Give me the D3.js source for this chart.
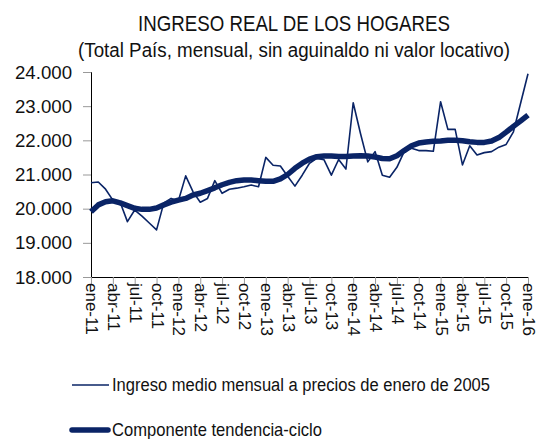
<!DOCTYPE html>
<html lang="es">
<head>
<meta charset="utf-8">
<title>Ingreso real de los hogares</title>
<script src="https://d3js.org/d3.v7.min.js"></script>
<style>
  body { margin: 0; background: #fff; }
  svg text { font-family: "Liberation Sans Narrow", "Arial Narrow", "Liberation Sans", sans-serif; fill: #111; }
</style>
</head>
<body>
<div id="chart"></div>
<script>
var width = 537,
    height = 439;

// meses ene-11 ... ene-16
var categories = [
  "ene-11","feb-11","mar-11","abr-11","may-11","jun-11","jul-11","ago-11","sep-11","oct-11","nov-11","dic-11",
  "ene-12","feb-12","mar-12","abr-12","may-12","jun-12","jul-12","ago-12","sep-12","oct-12","nov-12","dic-12",
  "ene-13","feb-13","mar-13","abr-13","may-13","jun-13","jul-13","ago-13","sep-13","oct-13","nov-13","dic-13",
  "ene-14","feb-14","mar-14","abr-14","may-14","jun-14","jul-14","ago-14","sep-14","oct-14","nov-14","dic-14",
  "ene-15","feb-15","mar-15","abr-15","may-15","jun-15","jul-15","ago-15","sep-15","oct-15","nov-15","dic-15",
  "ene-16"
];

var ingreso = [
  20760, 20780, 20570, 20250, 20190, 19620, 19960, 19780, 19580, 19380, 20170, 20300,
  20230, 20960, 20500, 20190, 20300, 20820, 20450, 20570, 20600, 20640, 20690, 20640,
  21500, 21270, 21250, 20950, 20660, 20980, 21330, 21470, 21430, 20980, 21440, 21160,
  23100, 22200, 21370, 21670, 20980, 20920, 21210, 21670, 21770, 21700, 21700, 21680,
  23130, 22320, 22320, 21280, 21840, 21570, 21640, 21670, 21800, 21880, 22250, 23100,
  23950
];

var tendencia = [
  19910, 20110, 20200, 20230, 20170, 20090, 20010, 19980, 19980, 20020, 20110, 20190,
  20250, 20300, 20400, 20450, 20530, 20610, 20700, 20770, 20820, 20840, 20840, 20820,
  20800, 20800, 20870, 21000, 21180, 21330, 21450, 21520, 21540, 21540, 21530, 21530,
  21540, 21550, 21540, 21510, 21470, 21460, 21550, 21700, 21840, 21920, 21950, 21970,
  21980, 22000, 22000, 21990, 21960, 21940, 21940, 21980, 22080, 22240, 22410, 22570,
  22740
];

var xTickLabels = categories.filter(function(d, i) { return i % 3 === 0; });
var yTicks = [18000, 19000, 20000, 21000, 22000, 23000, 24000];

var seriesNames = ["Ingreso medio mensual a precios de enero de 2005", "Componente tendencia-ciclo"];
var navy = "#0a2466";

var es = d3.formatLocale({ decimal: ",", thousands: ".", grouping: [3], currency: ["$", ""] });
var fmt = es.format(",d");

var svg = d3.select("#chart")
    .append("svg")
    .attr("width", width)
    .attr("height", height);

var x = d3.scalePoint()
    .domain(categories)
    .range([91, 528]);

var y = d3.scaleLinear()
    .domain([18000, 24000])
    .range([277, 72]);

// titulos (fuente angosta simulada con textLength)
svg.append("text")
    .attr("x", 294).attr("y", 31)
    .attr("text-anchor", "middle")
    .attr("textLength", 312)
    .attr("lengthAdjust", "spacingAndGlyphs")
    .style("font-size", "22px")
    .text("INGRESO REAL DE LOS HOGARES");
svg.append("text")
    .attr("x", 294).attr("y", 57)
    .attr("text-anchor", "middle")
    .attr("textLength", 432)
    .attr("lengthAdjust", "spacingAndGlyphs")
    .style("font-size", "20px")
    .text("(Total País, mensual, sin aguinaldo ni valor locativo)");

// eje y
var yAxis = svg.append("g")
    .attr("transform", "translate(91,0)")
    .call(d3.axisLeft(y).tickValues(yTicks).tickFormat(fmt).tickSize(8).tickPadding(11));
yAxis.select(".domain").attr("stroke", "#000");
yAxis.selectAll(".tick line").attr("stroke", "#999");
yAxis.selectAll(".tick text")
    .style("font-size", "19px")
    .attr("fill", "#111")
    .attr("textLength", 57)
    .attr("lengthAdjust", "spacingAndGlyphs");

// eje x
var xAxis = svg.append("g")
    .attr("transform", "translate(0,277)")
    .call(d3.axisBottom(x).tickValues(xTickLabels).tickSize(7).tickSizeOuter(0));
xAxis.select(".domain").attr("stroke", "#000");
xAxis.selectAll(".tick line").attr("stroke", "#999");
xAxis.selectAll(".tick text")
    .style("font-size", "17px")
    .attr("fill", "#111")
    .attr("text-anchor", "start")
    .attr("dy", null)
    .attr("transform", "rotate(90)")
    .attr("x", 6)
    .attr("y", 0)
    .attr("dominant-baseline", "central");

// lineas
var line = d3.line()
    .x(function(d, i) { return x(categories[i]); })
    .y(function(d) { return y(d); });

svg.append("path")
    .datum(tendencia)
    .attr("fill", "none")
    .attr("stroke", navy)
    .attr("stroke-width", 5.5)
    .attr("stroke-linejoin", "round")
    .attr("d", line);

svg.append("path")
    .datum(ingreso)
    .attr("fill", "none")
    .attr("stroke", navy)
    .attr("stroke-width", 1.6)
    .attr("stroke-linejoin", "round")
    .attr("d", line);

// leyenda
var legend = svg.append("g");
legend.append("line")
    .attr("x1", 72).attr("x2", 109).attr("y1", 385).attr("y2", 385)
    .attr("stroke", navy).attr("stroke-width", 1.6);
legend.append("text")
    .attr("x", 112).attr("y", 391)
    .attr("textLength", 378)
    .attr("lengthAdjust", "spacingAndGlyphs")
    .style("font-size", "18px")
    .text(seriesNames[0]);
legend.append("line")
    .attr("x1", 72).attr("x2", 108).attr("y1", 430).attr("y2", 430)
    .attr("stroke", navy).attr("stroke-width", 5.5).attr("stroke-linecap", "round");
legend.append("text")
    .attr("x", 112).attr("y", 436)
    .attr("textLength", 210)
    .attr("lengthAdjust", "spacingAndGlyphs")
    .style("font-size", "19px")
    .text(seriesNames[1]);
</script>
</body>
</html>
